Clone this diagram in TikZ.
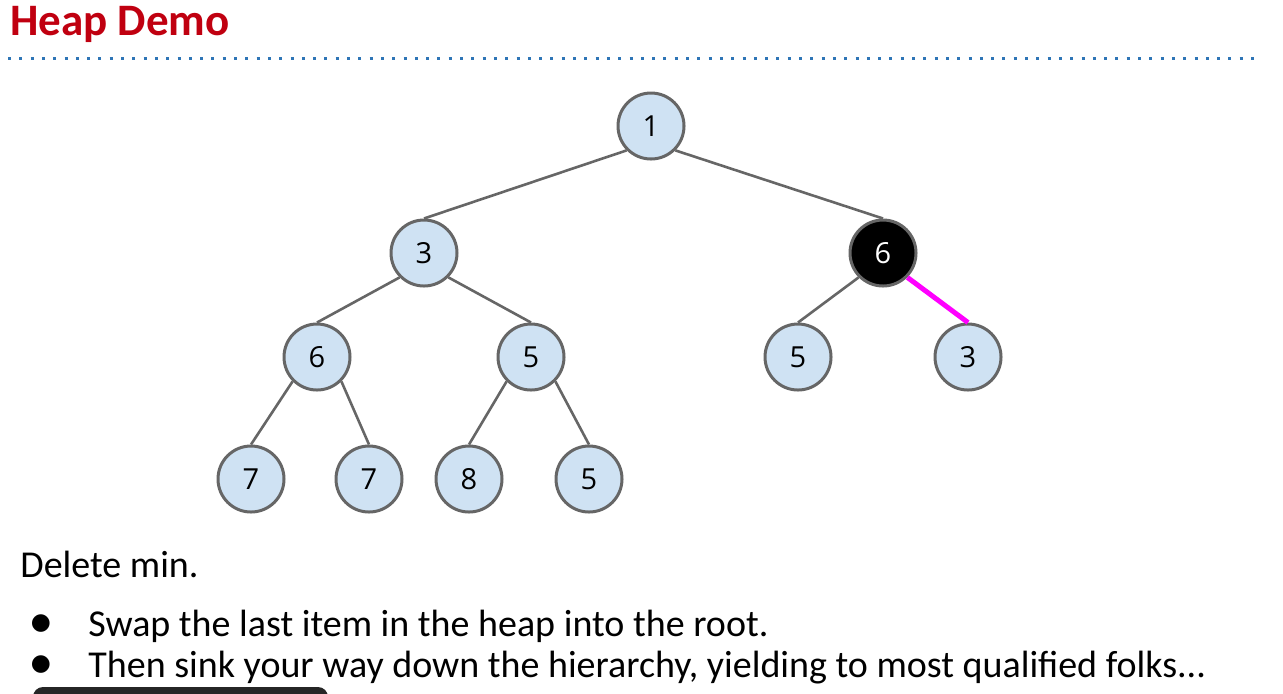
\documentclass[tikz,border=0pt]{standalone}
\usepackage{fontspec}
\setmainfont{Carlito}
\newfontfamily\digitfont{Open Sans}
\newfontfamily\symfont{DejaVu Sans}
\usetikzlibrary{positioning}
\definecolor{titlered}{HTML}{C00010}
\definecolor{ruleblue}{HTML}{2E75B6}
\definecolor{keyblue}{HTML}{CFE2F3}
\definecolor{edgegray}{HTML}{666666}
\definecolor{swapmagenta}{HTML}{FF00FF}
\definecolor{barblack}{HTML}{262626}
\tikzset{
  key/.style={
    circle, draw=edgegray, line width=1.5pt, fill=keyblue,
    minimum size=33pt, inner sep=0pt,
    font=\digitfont\fontsize{14.5}{14.5}\selectfont, text=black
  },
  hotkey/.style={key, fill=black, text=white},
  edge/.style={draw=edgegray, line width=1.3pt},
  swapedge/.style={draw=swapmagenta, line width=2.5pt},
  title/.style={font=\bfseries\fontsize{22.5}{27}\selectfont, text=titlered, anchor=base west, inner sep=0pt},
  body/.style={font=\fontsize{19}{23}\selectfont, anchor=base west, inner sep=0pt},
  bulletmark/.style={font=\symfont\fontsize{11.5}{12}\selectfont, inner sep=0pt}
}

\begin{document}
\begin{tikzpicture}[x=0.5pt, y=-0.5pt]
\useasboundingbox (0,0) rectangle (1283,693);
% header
\node[title] (title) at (10,35) {Heap Demo};
\draw[ruleblue, line width=1.5pt, dash pattern=on 1.5pt off 4.15pt] (8,58) -- (1262,58);
% heap
\node[key] (k1) at (651,126) {1};
\node[key] (k3) at (424,253) {3};
\node[hotkey] (k6) at (883,253) {6};
\node[key] (k6l) at (317,357) {6};
\node[key] (k5l) at (531,357) {5};
\node[key] (k5r) at (798,357) {5};
\node[key] (k3r) at (968,357) {3};
\node[key] (k7a) at (251,479) {7};
\node[key] (k7b) at (369,479) {7};
\node[key] (k8) at (469,479) {8};
\node[key] (k5b) at (589,479) {5};
\draw[edge] (k1.south west) -- (k3.north);
\draw[edge] (k1.south east) -- (k6.north);
\draw[edge] (k3.south west) -- (k6l.north);
\draw[edge] (k3.south east) -- (k5l.north);
\draw[edge] (k6.south west) -- (k5r.north);
\draw[swapedge] (k6.south east) -- (k3r.north);
\draw[edge] (k6l.south west) -- (k7a.north);
\draw[edge] (k6l.south east) -- (k7b.north);
\draw[edge] (k5l.south west) -- (k8.north);
\draw[edge] (k5l.south east) -- (k5b.north);
% text
\node[body] (del) at (20,577) {Delete min.};
\node[bulletmark] (b1) at (41,624) {●};
\node[body] (t1) at (88,636) {Swap the last item in the heap into the root.};
\node[bulletmark] (b2) at (41,665) {●};
\node[body] (t2) at (88,677) {Then sink your way down the hierarchy, yielding to most qualified folks...};
% player bar
\fill[barblack, rounded corners=5pt] (33,705) rectangle (328,687);
\end{tikzpicture}
\end{document}
